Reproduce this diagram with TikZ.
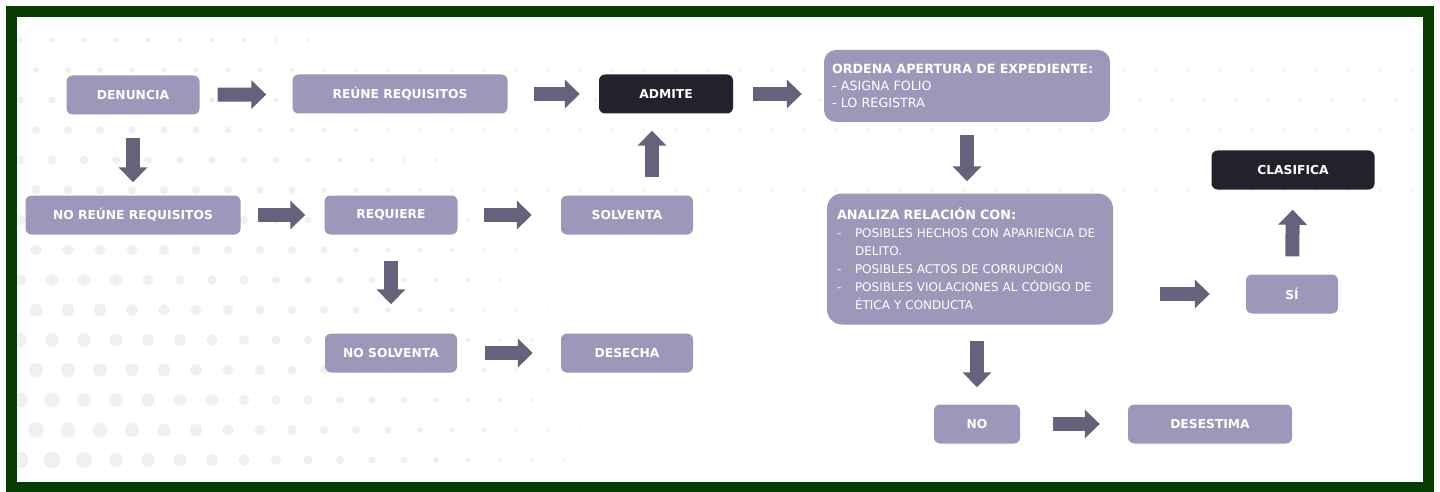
\documentclass[tikz,border=0pt]{standalone}
\usepackage{fontspec}
\setmainfont{DejaVu Sans}
\usetikzlibrary{arrows.meta}
\definecolor{verde}{RGB}{4,60,4}
\definecolor{lila}{RGB}{157,151,186}
\definecolor{oscuro}{RGB}{36,33,45}
\definecolor{flecha}{RGB}{103,98,124}
\tikzset{
  caja/.style={fill=lila, rounded corners=6pt, minimum height=39pt, inner sep=0pt,
    text=white, font=\bfseries\fontsize{12.3}{15}\selectfont},
  cajaosc/.style={caja, fill=oscuro},
  flechota/.style={draw=flecha, line width=14pt, -{Triangle[width=28pt,length=15pt]}}
}
\begin{document}
\begin{tikzpicture}[x=1pt,y=-1pt]
\useasboundingbox (0,0) rectangle (1440,492);
\fill[white] (0,0) rectangle (1440,492);
% puntos de fondo
\foreach \py in {40,70,...,460} {
  \foreach \px in {20,52,...,1420} {
    \pgfmathsetmacro{\qx}{\px+16*mod(\py/10,2)}
    \pgfmathsetmacro{\r}{max(8.5-veclen(\qx-20,470-\py)/75,(\py<200)*1.4)}
    \fill[black!6] (\qx,\py) circle[radius=\r pt];
  }
}
\draw[verde, line width=11pt] (11,12) rectangle (1428,487);

\node[caja, minimum width=133pt] (den) at (133,95) {DENUNCIA};
\node[caja, minimum width=215pt] (reu) at (400,94) {REÚNE REQUISITOS};
\node[cajaosc, minimum width=134pt] (adm) at (666,94) {ADMITE};
\node[caja, minimum width=286pt, minimum height=72pt, rounded corners=12pt,
  text width=270pt, align=left, font=\fontsize{12.7}{17}\selectfont] (ord) at (967,86)
  {\textbf{ORDENA APERTURA DE EXPEDIENTE:}\\- ASIGNA FOLIO\\- LO REGISTRA};
\node[caja, minimum width=215pt] (noreu) at (133,215) {NO REÚNE REQUISITOS};
\node[caja, minimum width=133pt] (req) at (391,215) {REQUIERE};
\node[caja, minimum width=132pt] (sol) at (627,215) {SOLVENTA};
\node[caja, minimum width=132pt] (nosol) at (391,353) {NO SOLVENTA};
\node[caja, minimum width=132pt] (des) at (627,353) {DESECHA};
\node[caja, minimum width=286pt, minimum height=131pt, rounded corners=15pt,
  text width=266pt, align=left, font=\fontsize{12}{18}\selectfont] (ana) at (970,259)
  {{\fontsize{12.8}{18}\selectfont\bfseries ANALIZA RELACIÓN CON:}\\
   \makebox[18pt][l]{-}POSIBLES HECHOS CON APARIENCIA DE\\
   \hspace*{18pt}DELITO.\\
   \makebox[18pt][l]{-}POSIBLES ACTOS DE CORRUPCIÓN\\
   \makebox[18pt][l]{-}POSIBLES VIOLACIONES AL CÓDIGO DE\\
   \hspace*{18pt}ÉTICA Y CONDUCTA};
\node[cajaosc, minimum width=163pt] (clas) at (1293,170) {CLASIFICA};
\node[caja, minimum width=92pt] (si) at (1292,294) {SÍ};
\node[caja, minimum width=86pt] (no) at (977,424) {NO};
\node[caja, minimum width=164pt] (dese) at (1210,424) {DESESTIMA};

\draw[flechota, shorten <=18pt, shorten >=26pt] (den) -- (reu);
\draw[flechota, shorten <=26pt, shorten >=19pt] (reu) -- (adm);
\draw[flechota, shorten <=20pt, shorten >=22pt] (adm.east) -- (adm.east -| ord.west);
\draw[flechota, shorten <=23pt, shorten >=13pt] (den) -- (noreu);
\draw[flechota, shorten <=17pt, shorten >=19pt] (noreu) -- (req);
\draw[flechota, shorten <=26pt, shorten >=29pt] (req) -- (sol);
\draw[flechota, shorten <=18pt, shorten >=17pt] ([xshift=25pt]sol.north) -- ([xshift=25pt]sol.north |- adm.south);
\draw[flechota, shorten <=26pt, shorten >=29pt] (req) -- (nosol);
\draw[flechota, shorten <=28pt, shorten >=28pt] (nosol) -- (des);
\draw[flechota, shorten <=13pt, shorten >=12pt] (ord.south) -- (ord.south |- ana.north);
\draw[flechota, shorten <=16pt, shorten >=17pt] (ana.south -| no) -- (no);
\draw[flechota, shorten <=33pt, shorten >=28pt] (no) -- (dese);
\draw[flechota, shorten <=47pt, shorten >=36pt] (ana.east |- si) -- (si);
\draw[flechota, shorten <=18pt, shorten >=20pt] (si) -- (clas);
\end{tikzpicture}
\end{document}
